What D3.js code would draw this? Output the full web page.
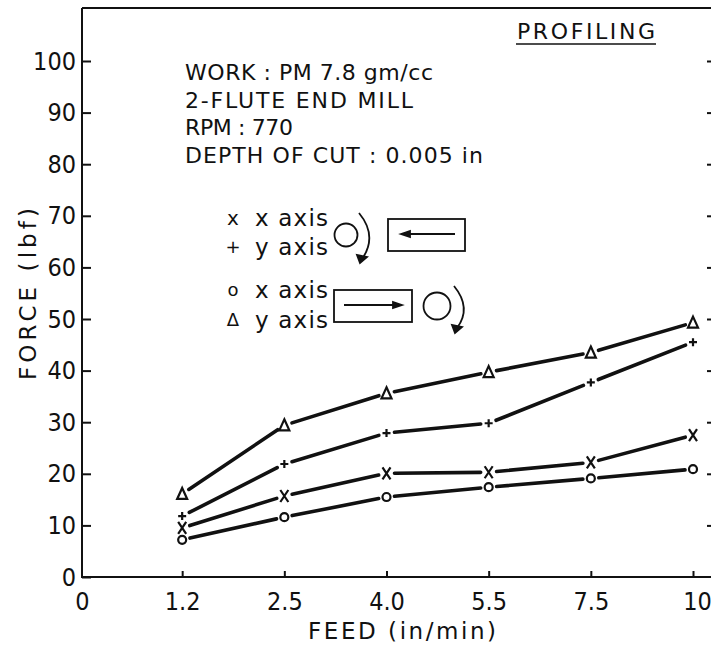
<!DOCTYPE html>
<html><head><meta charset="utf-8">
<script src="https://cdn.jsdelivr.net/npm/d3@7"></script>
<style>
body{margin:0;background:#fff;}
text{font-family:"DejaVu Sans",sans-serif;fill:#111;}
.tk text{font-family:"Liberation Sans Narrow","DejaVu Sans Condensed",sans-serif;}
</style></head>
<body><svg id="c" width="711" height="646"></svg>
<script>
const feedLabels = ["0","1.2","2.5","4.0","5.5","7.5","10"];
const feedData = ["1.2","2.5","4.0","5.5","7.5","10"];
const yTicks = [0,10,20,30,40,50,60,70,80,90,100];
const triY = [16.1, 29.4, 35.6, 39.7, 43.5, 49.3];   // Δ y axis
const plusY = [11.8, 21.9, 27.9, 29.8, 37.7, 45.5];  // + y axis
const crossX = [9.5, 15.7, 20.1, 20.3, 22.2, 27.5];  // x x axis
const circX = [7.2, 11.6, 15.5, 17.4, 19.1, 20.9];   // o x axis
const infoLines = ["WORK : PM  7.8 gm/cc","2-FLUTE END MILL","RPM : 770","DEPTH OF CUT : 0.005 in"];
const legendItems = [["x","x axis"],["+","y axis"],["o","x axis"],["\u0394","y axis"]];

const svg = d3.select("#c");
const x = d3.scalePoint().domain(feedLabels).range([80, 693]);
const y = d3.scaleLinear().domain([0,100]).range([577, 61]);

// frame
svg.append("path").attr("d","M82,8 L82,577 L711,577 M82,8 L711,8")
  .attr("fill","none").attr("stroke","#111").attr("stroke-width",2);

// y axis (ticks inside)
const ya = svg.append("g").attr("class","tk").attr("transform","translate(82,0)")
  .call(d3.axisLeft(y).tickValues(yTicks).tickSize(-9).tickPadding(6));
ya.select(".domain").remove();
ya.selectAll("line").attr("stroke","#111").attr("stroke-width",2);
ya.selectAll("text").attr("font-size",25).attr("fill","#111");

// right small ticks
const yr = svg.append("g").attr("transform","translate(711,0)")
  .call(d3.axisRight(y).tickValues(yTicks.filter(d=>d>0)).tickSize(-4).tickFormat(""));
yr.select(".domain").remove();
yr.selectAll("line").attr("stroke","#111").attr("stroke-width",2);

// x axis
const xa = svg.append("g").attr("class","tk").attr("transform","translate(0,577)")
  .call(d3.axisBottom(x).tickSize(-6).tickPadding(15));
xa.select(".domain").remove();
xa.selectAll(".tick line").filter(d=>d==="0").remove();
xa.selectAll("line").attr("stroke","#111").attr("stroke-width",2);
xa.selectAll("text").attr("font-size",25).attr("fill","#111");
xa.selectAll(".tick text").filter(d=>d==="10").attr("dx",4);
xa.selectAll(".tick text").filter(d=>d==="0").attr("dx",2);

// axis titles
svg.append("text").attr("transform","translate(28,294) rotate(-90)").attr("text-anchor","middle")
  .attr("font-size",23).attr("dy","0.35em").attr("textLength",172).attr("lengthAdjust","spacing").text("FORCE (lbf)");
svg.append("text").attr("x",402).attr("y",631).attr("text-anchor","middle")
  .attr("font-size",23).attr("dy","0.35em").attr("textLength",188).attr("lengthAdjust","spacing").text("FEED (in/min)");

// info text
const infoY = [72, 100, 127, 155];
const infoW = [248, 228, 108, 298];
infoLines.forEach((t,i)=>{
  svg.append("text").attr("x",185).attr("y",infoY[i]).attr("dy","0.35em").attr("font-size",22)
    .attr("textLength",infoW[i]).attr("lengthAdjust","spacing").text(t);
});
svg.append("text").attr("x",517).attr("y",31).attr("dy","0.35em").attr("font-size",22)
  .attr("textLength",138).attr("lengthAdjust","spacing").text("PROFILING");
svg.append("line").attr("x1",516).attr("x2",656).attr("y1",44).attr("y2",44).attr("stroke","#111").attr("stroke-width",1.6);

// legend text
const legY = [218, 247, 290, 320];
legendItems.forEach((d,i)=>{
  svg.append("text").attr("x",233).attr("y",legY[i]).attr("dy","0.35em").attr("font-size",d[0]==="x"?20:18)
    .attr("text-anchor","middle").text(d[0]);
  svg.append("text").attr("x",255).attr("y",legY[i]).attr("dy","0.35em").attr("font-size",23)
    .attr("textLength",73).attr("lengthAdjust","spacing").text(d[1]);
});

// icons
const ic = svg.append("g").attr("fill","none").attr("stroke","#111").attr("stroke-width",1.8);
ic.append("circle").attr("cx",346).attr("cy",235).attr("r",11.5);
ic.append("path").attr("d","M359,213 Q378,236 362,259");
ic.append("path").attr("d","M357,255 L360,263 L367,257 Z").attr("fill","#111");
ic.append("rect").attr("x",388).attr("y",219).attr("width",77).attr("height",32);
ic.append("path").attr("d","M403,234 L455,234");
ic.append("path").attr("d","M401,234 L410,231 L410,237 Z").attr("fill","#111");
ic.append("rect").attr("x",334).attr("y",290).attr("width",78).attr("height",32);
ic.append("path").attr("d","M344,305 L400,305");
ic.append("path").attr("d","M402,305 L393,302 L393,308 Z").attr("fill","#111");
ic.append("circle").attr("cx",437).attr("cy",306).attr("r",13.5);
ic.append("path").attr("d","M454,286 Q472,308 457,328");
ic.append("path").attr("d","M452,325 L455,333 L462,327 Z").attr("fill","#111");

// series
const series = [
  {vals:triY, m:"tri"},
  {vals:plusY, m:"plus"},
  {vals:crossX, m:"cross"},
  {vals:circX, m:"circ"}
];
const gap = 8;
series.forEach(s=>{
  const pts = feedData.map((f,i)=>[x(f), y(s.vals[i])]);
  const g = svg.append("g");
  for(let i=0;i<pts.length-1;i++){
    const [x1,y1]=pts[i],[x2,y2]=pts[i+1];
    const L=Math.hypot(x2-x1,y2-y1), ux=(x2-x1)/L, uy=(y2-y1)/L;
    g.append("line").attr("x1",x1+ux*gap).attr("y1",y1+uy*gap)
      .attr("x2",x2-ux*gap).attr("y2",y2-uy*gap)
      .attr("stroke","#111").attr("stroke-width",3.6).attr("stroke-linecap","round");
  }
  pts.forEach(([px,py])=>{
    const mk = g.append("path").attr("fill","none").attr("stroke","#111").attr("stroke-width",2.2);
    if(s.m==="tri") mk.attr("d",`M${px},${py-6} L${px+5},${py+5} L${px-5},${py+5} Z`);
    if(s.m==="plus") mk.attr("d",`M${px-4},${py} L${px+4},${py} M${px},${py-4} L${px},${py+4}`);
    if(s.m==="cross") mk.attr("d",`M${px-4},${py-6} L${px+4},${py+6} M${px+4},${py-6} L${px-4},${py+6}`);
    if(s.m==="circ") mk.attr("d",`M${px+4},${py} A4,4 0 1,1 ${px-4},${py} A4,4 0 1,1 ${px+4},${py}`);
  });
});
</script></body></html>
